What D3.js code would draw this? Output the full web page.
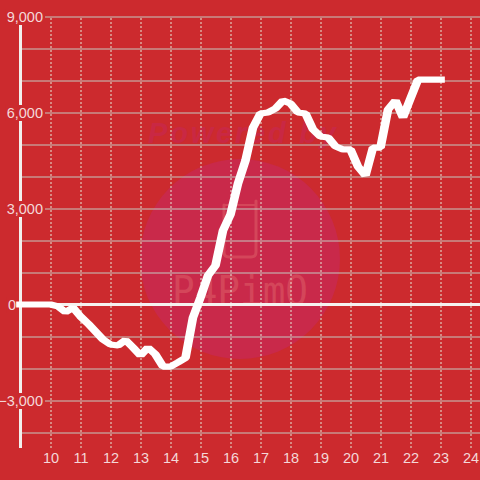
<!DOCTYPE html>
<html><head><meta charset="utf-8">
<script src="https://cdn.jsdelivr.net/npm/d3@7/dist/d3.min.js"></script>
<style>html,body{margin:0;padding:0;background:#cc2a2e;overflow:hidden}svg{display:block}
text{font-family:"Liberation Sans",Arial,sans-serif}</style></head><body>
<script>
const hours=[9,10,10.25,10.5,10.75,11,11.25,11.5,11.75,12,12.25,12.5,12.75,13,13.25,13.5,13.75,14,14.25,14.5,14.75,15,15.25,15.5,15.75,16,16.25,16.5,16.75,17,17.25,17.5,17.75,18,18.25,18.5,18.75,19,19.25,19.5,19.75,20,20.25,20.5,20.75,21,21.25,21.5,21.75,22,22.25,23];
const values=[0,0,-60,-235,-95,-375,-595,-845,-1095,-1250,-1280,-1110,-1345,-1595,-1345,-1560,-1940,-1940,-1810,-1670,-405,220,905,1220,2310,2810,3780,4500,5530,5970,6000,6125,6375,6280,6000,5970,5470,5250,5220,4940,4845,4845,4310,4030,4905,4905,6090,6375,5845,6440,7030,7030];
const xTicks=[10,11,12,13,14,15,16,17,18,19,20,21,22,23,24];
const yTicks=[-4000,-3000,-2000,-1000,0,1000,2000,3000,4000,5000,6000,7000,8000,9000];
const yLabelled=[-3000,0,3000,6000,9000];
const watermarkTop="Powered by";
const watermarkLogo="P4PimO";

const bg="#cc2a2e", labelCol="#f4d8d8", fontSize=14.5;
const svg=d3.select("body").append("svg").attr("width",480).attr("height",480);
svg.append("rect").attr("width",480).attr("height",480).attr("fill",bg);
const x=d3.scaleLinear().domain([9,25]).range([20.5,500.5]);
const y=d3.scaleLinear().domain([-4500,9000]).range([448.5,16.5]);

// watermark
const wm=svg.append("g");
wm.append("circle").attr("cx",240).attr("cy",259).attr("r",100).attr("fill","#c9294a");
wm.append("text").attr("x",242).attr("y",143).attr("text-anchor","middle")
  .attr("font-size",29).attr("font-weight","bold").attr("font-style","italic")
  .attr("textLength",188).attr("fill","#c92844").text(watermarkTop);
wm.append("path").attr("d","M224 205V252Q224 257 229 257H251Q256 257 256 252V201")
  .attr("fill","none").attr("stroke","#d4465a").attr("stroke-width",3).attr("stroke-linecap","round");
wm.append("path").attr("d","M224 205H256").attr("fill","none").attr("stroke","#d4465a").attr("stroke-width",2);
wm.append("text").attr("x",240).attr("y",305).attr("text-anchor","middle")
  .attr("font-size",40).attr("textLength",136).attr("lengthAdjust","spacingAndGlyphs")
  .attr("style",'font-family:"DejaVu Sans Mono",monospace')
  .attr("fill","#d4465a").text(watermarkLogo);

// x axis + dotted grid
const gx=svg.append("g").attr("transform","translate(0,448)")
  .call(d3.axisBottom(x).tickValues(xTicks).tickSize(-432).tickPadding(5).tickFormat(d3.format("d")));
gx.select(".domain").remove();
gx.selectAll("line").attr("stroke","#e4ead8").attr("stroke-dasharray","2,2");
gx.selectAll("text").attr("font-size",fontSize).attr("fill",labelCol)
  .style("font-family",'"Liberation Sans",Arial,sans-serif').attr("dy",".71em");

// y grid lines
const gy=svg.append("g").attr("transform","translate(20.5,0)")
  .call(d3.axisLeft(y).tickValues(yTicks).tickSize(-459.5).tickFormat(""));
gy.select(".domain").remove();
gy.selectAll("line").attr("stroke","#c4c9c0");
gy.selectAll("text").remove();

// y axis line
svg.append("line").attr("x1",20.5).attr("x2",20.5).attr("y1",y(9000)).attr("y2",448)
  .attr("stroke","#f2f0ee").attr("stroke-width",3);

// zero line
svg.append("line").attr("x1",17).attr("x2",480).attr("y1",y(0)).attr("y2",y(0))
  .attr("stroke","#f5f2f0").attr("stroke-width",3);

// y labels with background
const gl=svg.append("g").attr("transform","translate(43,0)")
  .call(d3.axisLeft(y).tickValues(yLabelled).tickSize(0).tickPadding(0).tickFormat(d3.format(",")));
gl.select(".domain").remove();
gl.selectAll("line").remove();
gl.selectAll("text").attr("font-size",fontSize).attr("fill",labelCol)
  .style("font-family",'"Liberation Sans",Arial,sans-serif');
gl.selectAll(".tick").each(function(d){
  const g=d3.select(this), t=g.select("text");
  if(d===0) t.attr("x",-27);
  const b=t.node().getBBox();
  g.insert("rect","text").attr("x",b.x-1).attr("y",-8).attr("width",b.width+3).attr("height",16).attr("fill",bg);
});

// data line: stretched horizontally so steep parts read wider than flat parts
const sx=1.4;
const line=d3.line().x((d,i)=>x(hours[i])/sx).y(d=>y(d));
svg.append("path").datum(values).attr("d",line).attr("transform",`scale(${sx},1)`)
  .attr("fill","none").attr("stroke","#fff")
  .attr("stroke-width",6.2).attr("stroke-linecap","square").attr("stroke-linejoin","bevel");
</script></body></html>
